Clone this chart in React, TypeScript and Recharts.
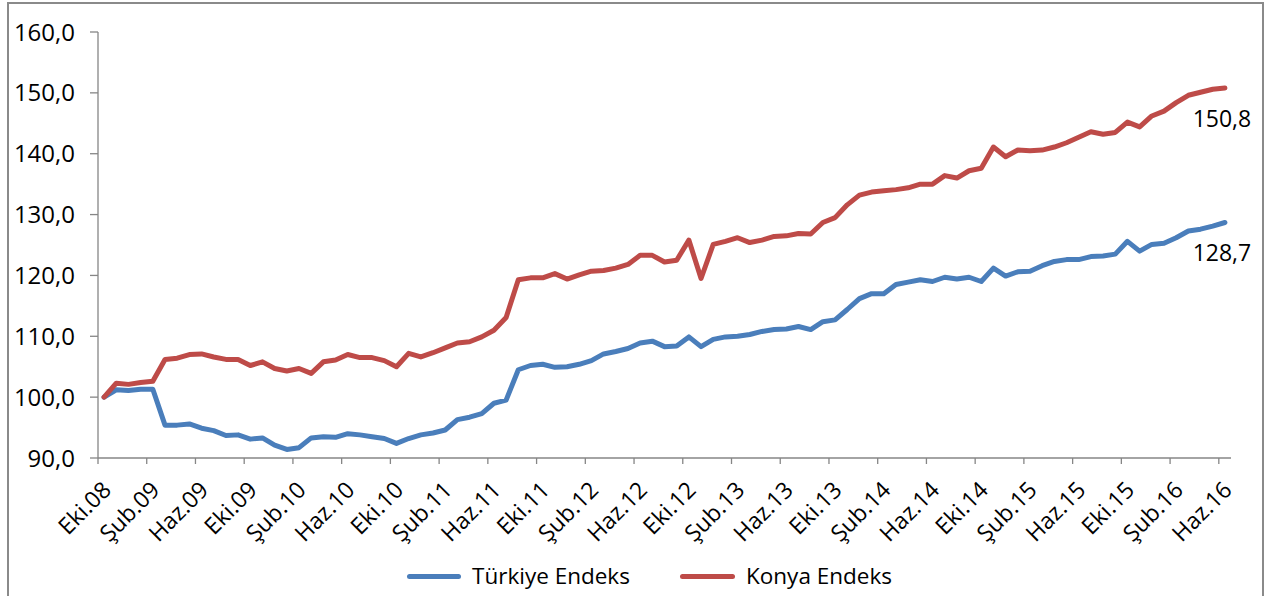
import React from 'react';
import { LineChart, Line, XAxis, YAxis, Legend, LabelList } from 'recharts';

const months = [
  'Eki.08', 'Kas.08', 'Ara.08',
  'Oca.09', 'Şub.09', 'Mar.09', 'Nis.09', 'May.09', 'Haz.09', 'Tem.09', 'Ağu.09', 'Eyl.09', 'Eki.09', 'Kas.09', 'Ara.09',
  'Oca.10', 'Şub.10', 'Mar.10', 'Nis.10', 'May.10', 'Haz.10', 'Tem.10', 'Ağu.10', 'Eyl.10', 'Eki.10', 'Kas.10', 'Ara.10',
  'Oca.11', 'Şub.11', 'Mar.11', 'Nis.11', 'May.11', 'Haz.11', 'Tem.11', 'Ağu.11', 'Eyl.11', 'Eki.11', 'Kas.11', 'Ara.11',
  'Oca.12', 'Şub.12', 'Mar.12', 'Nis.12', 'May.12', 'Haz.12', 'Tem.12', 'Ağu.12', 'Eyl.12', 'Eki.12', 'Kas.12', 'Ara.12',
  'Oca.13', 'Şub.13', 'Mar.13', 'Nis.13', 'May.13', 'Haz.13', 'Tem.13', 'Ağu.13', 'Eyl.13', 'Eki.13', 'Kas.13', 'Ara.13',
  'Oca.14', 'Şub.14', 'Mar.14', 'Nis.14', 'May.14', 'Haz.14', 'Tem.14', 'Ağu.14', 'Eyl.14', 'Eki.14', 'Kas.14', 'Ara.14',
  'Oca.15', 'Şub.15', 'Mar.15', 'Nis.15', 'May.15', 'Haz.15', 'Tem.15', 'Ağu.15', 'Eyl.15', 'Eki.15', 'Kas.15', 'Ara.15',
  'Oca.16', 'Şub.16', 'Mar.16', 'Nis.16', 'May.16', 'Haz.16',
];

const turkiye = [
  100.0, 101.2, 101.1,
  101.3, 101.3, 95.4, 95.4, 95.6, 94.9, 94.5, 93.7, 93.8, 93.1, 93.3, 92.1,
  91.4, 91.7, 93.3, 93.5, 93.4, 94.0, 93.8, 93.5, 93.2, 92.4, 93.2, 93.8,
  94.1, 94.6, 96.3, 96.7, 97.3, 99.0, 99.5, 104.5, 105.2, 105.4, 104.9, 105.0,
  105.4, 106.0, 107.1, 107.5, 108.0, 108.9, 109.2, 108.3, 108.4, 109.9, 108.3, 109.5,
  109.9, 110.0, 110.3, 110.8, 111.1, 111.2, 111.6, 111.1, 112.4, 112.7, 114.4, 116.2,
  117.0, 117.0, 118.5, 118.9, 119.3, 119.0, 119.7, 119.4, 119.7, 119.0, 121.2, 119.9,
  120.6, 120.7, 121.6, 122.3, 122.6, 122.6, 123.1, 123.2, 123.5, 125.6, 124.0, 125.1,
  125.3, 126.2, 127.3, 127.6, 128.1, 128.7,
];

const konya = [
  100.0, 102.3, 102.1,
  102.4, 102.6, 106.2, 106.4, 107.0, 107.1, 106.6, 106.2, 106.2, 105.2, 105.8, 104.7,
  104.3, 104.7, 103.9, 105.8, 106.1, 107.0, 106.5, 106.5, 106.0, 105.0, 107.2, 106.6,
  107.3, 108.1, 108.9, 109.1, 109.9, 111.0, 113.1, 119.3, 119.6, 119.6, 120.3, 119.4,
  120.1, 120.7, 120.8, 121.2, 121.8, 123.3, 123.3, 122.2, 122.5, 125.8, 119.5, 125.1,
  125.6, 126.2, 125.4, 125.8, 126.4, 126.5, 126.9, 126.8, 128.7, 129.5, 131.6, 133.2,
  133.7, 133.9, 134.1, 134.4, 135.0, 135.0, 136.4, 136.0, 137.2, 137.6, 141.1, 139.5,
  140.6, 140.5, 140.6, 141.1, 141.8, 142.7, 143.6, 143.2, 143.5, 145.2, 144.4, 146.2,
  147.0, 148.4, 149.6, 150.1, 150.6, 150.8,
];

const yTicks = [90, 100, 110, 120, 130, 140, 150, 160];

const data = months.map((m, i) => ({ month: m, turkiye: turkiye[i], konya: konya[i] }));

const BLUE = '#4A7EBB';
const RED = '#BE4B48';
const AXIS = '#868686';
const FONT = '"Open Sans", sans-serif';
const FS = 22.5;

const fmt = (v: number) => v.toFixed(1).replace('.', ',');

// tick marks sit between categories (Excel style), label at the category itself
const MonthTick = (props: any) => {
  const { x, y, payload } = props;
  const off = payload.offset || 0;
  const lx = x + 2;
  const ly = y + 21;
  return (
    <g>
      <line x1={x - off} y1={y - 6} x2={x - off} y2={y} stroke={AXIS} strokeWidth={1.3} />
      <text
        x={lx}
        y={ly}
        textAnchor="end"
        dominantBaseline="central"
        transform={`rotate(-45, ${lx}, ${ly})`}
        fontSize={23}
        fontFamily={FONT}
        fill="#000"
      >
        {payload.value}
      </text>
    </g>
  );
};

const endLabel = (props: any) => {
  const { x, y, index, value } = props;
  if (index !== months.length - 1) return null;
  return (
    <text
      x={x - 3}
      y={y + 30}
      textAnchor="middle"
      dominantBaseline="central"
      fontSize={23}
      fontFamily={FONT}
      fill="#000"
    >
      {fmt(value)}
    </text>
  );
};

const LegendBox = () => (
  <div style={{ position: 'relative', width: 1271, height: 40, fontFamily: FONT, fontSize: FS, color: '#000' }}>
    <span style={{ position: 'absolute', left: 407, top: 18, width: 54, height: 5, borderRadius: 3, background: BLUE }} />
    <span style={{ position: 'absolute', left: 472, top: 0, lineHeight: '40px', whiteSpace: 'nowrap' }}>Türkiye Endeks</span>
    <span style={{ position: 'absolute', left: 680, top: 18, width: 55, height: 5, borderRadius: 3, background: RED }} />
    <span style={{ position: 'absolute', left: 746, top: 0, lineHeight: '40px', whiteSpace: 'nowrap' }}>Konya Endeks</span>
  </div>
);

const App = () => {
  return (
    <div style={{ position: 'absolute', left: 0, top: 0, width: 1271, height: 596, overflow: 'hidden', background: '#fff' }}>
      <div
        style={{
          position: 'absolute',
          left: 7,
          top: 2,
          width: 1257,
          height: 700,
          border: '2px solid #8a8a8a',
          boxSizing: 'border-box',
        }}
      />
      <div style={{ position: 'absolute', left: 0, top: 0 }}>
        <LineChart width={1271} height={596} data={data} margin={{ top: 32, right: 40, left: 0, bottom: 0 }}>
          <XAxis
            dataKey="month"
            scale="band"
            interval={3}
            height={98}
            tickSize={6}
            tickMargin={0}
            tickLine={false}
            axisLine={{ stroke: AXIS, strokeWidth: 1.3 }}
            tick={<MonthTick />}
          />
          <YAxis
            domain={[90, 160]}
            ticks={yTicks}
            tickFormatter={fmt}
            width={98}
            tickSize={8}
            tickMargin={15}
            axisLine={{ stroke: AXIS, strokeWidth: 1.3 }}
            tickLine={{ stroke: AXIS, strokeWidth: 1.3 }}
            tick={{ fill: '#000', fontSize: 24, fontFamily: FONT }}
          />
          <Legend
            verticalAlign="bottom"
            content={<LegendBox />}
            wrapperStyle={{ left: 0, bottom: 0, width: 1271, height: 40 }}
          />
          <Line
            dataKey="turkiye"
            name="Türkiye Endeks"
            stroke={BLUE}
            strokeWidth={5}
            strokeLinejoin="round"
            strokeLinecap="round"
            dot={false}
            activeDot={false}
            isAnimationActive={false}
          >
            <LabelList dataKey="turkiye" content={endLabel} />
          </Line>
          <Line
            dataKey="konya"
            name="Konya Endeks"
            stroke={RED}
            strokeWidth={5}
            strokeLinejoin="round"
            strokeLinecap="round"
            dot={false}
            activeDot={false}
            isAnimationActive={false}
          >
            <LabelList dataKey="konya" content={endLabel} />
          </Line>
        </LineChart>
      </div>
    </div>
  );
};

export default App;
